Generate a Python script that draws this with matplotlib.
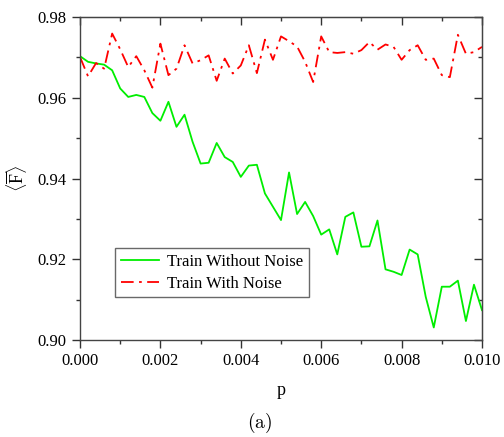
import numpy as np
import matplotlib
matplotlib.use("Agg")
import matplotlib.pyplot as plt
from matplotlib.ticker import MultipleLocator, FormatStrFormatter, NullFormatter

plt.rcParams['font.family'] = ['Liberation Serif', 'DejaVu Serif']
plt.rcParams['mathtext.fontset'] = 'custom'
plt.rcParams['mathtext.rm'] = 'Liberation Serif'
plt.rcParams['mathtext.it'] = 'Liberation Serif:italic'

p = [i * 0.0002 for i in range(51)]

without_noise = [
    0.9703, 0.9689, 0.9685, 0.9682, 0.9668, 0.9623, 0.9602, 0.9607, 0.9602, 0.9562,
    0.9543, 0.9590, 0.9528, 0.9558, 0.9491, 0.9437, 0.9439, 0.9488, 0.9453, 0.9441,
    0.9404, 0.9432, 0.9434, 0.9363, 0.9330, 0.9297, 0.9415, 0.9312, 0.9342, 0.9307,
    0.9261, 0.9274, 0.9212, 0.9305, 0.9316, 0.9231, 0.9232, 0.9296, 0.9175, 0.9169,
    0.9161, 0.9224, 0.9212, 0.9107, 0.9031, 0.9132, 0.9132, 0.9147, 0.9047, 0.9137,
    0.9074,
]

with_noise = [
    0.9701, 0.9653, 0.9686, 0.9672, 0.9759, 0.9720, 0.9676, 0.9703, 0.9668, 0.9625,
    0.9734, 0.9656, 0.9672, 0.9730, 0.9685, 0.9693, 0.9705, 0.9642, 0.9697, 0.9660,
    0.9680, 0.9730, 0.9661, 0.9744, 0.9694, 0.9752, 0.9740, 0.9727, 0.9689, 0.9639,
    0.9752, 0.9713, 0.9711, 0.9713, 0.9709, 0.9718, 0.9738, 0.9719, 0.9732, 0.9726,
    0.9694, 0.9718, 0.9730, 0.9694, 0.9697, 0.9656, 0.9651, 0.9756, 0.9709, 0.9713,
    0.9726,
]

fig = plt.figure(figsize=(5.04, 4.37), dpi=100)
ax = fig.add_axes([80/504, 1 - 340/437, (482-80)/504, (340-17)/437])

ax.plot(p, without_noise, color='#00ee00', lw=1.3, label='Train Without Noise')
ax.plot(p, with_noise, color='#ff0000', lw=1.3, ls=(0, (7, 3, 1.5, 3)), label='Train With Noise')

ax.set_xlim(0, 0.010)
ax.set_ylim(0.90, 0.98)
ax.xaxis.set_major_locator(MultipleLocator(0.002))
ax.xaxis.set_minor_locator(MultipleLocator(0.001))
ax.yaxis.set_major_locator(MultipleLocator(0.02))
ax.yaxis.set_minor_locator(MultipleLocator(0.01))
ax.xaxis.set_major_formatter(FormatStrFormatter('%.3f'))
ax.yaxis.set_major_formatter(FormatStrFormatter('%.2f'))

for s in ax.spines.values():
    s.set_color('#444444')
    s.set_linewidth(1.0)

ax.tick_params(axis='both', which='major', labelsize=12, color='#333333', width=1.0,
               direction='out', length=6)
ax.tick_params(axis='both', which='minor', color='#333333', width=1.0,
               direction='out', length=3)

# top / right ticks pointing inward
sx = ax.secondary_xaxis('top')
sx.xaxis.set_major_locator(MultipleLocator(0.002))
sx.xaxis.set_minor_locator(MultipleLocator(0.001))
sx.xaxis.set_major_formatter(NullFormatter())
sx.tick_params(which='major', direction='in', length=6, width=1.0, color='#333333')
sx.tick_params(which='minor', direction='in', length=3, width=1.0, color='#333333')
sx.spines['top'].set_color('#444444')

sy = ax.secondary_yaxis('right')
sy.yaxis.set_major_locator(MultipleLocator(0.02))
sy.yaxis.set_minor_locator(MultipleLocator(0.01))
sy.yaxis.set_major_formatter(NullFormatter())
sy.tick_params(which='major', direction='in', length=6, width=1.0, color='#333333')
sy.tick_params(which='minor', direction='in', length=3, width=1.0, color='#333333')
sy.spines['right'].set_color('#444444')

ax.set_xlabel('p', fontsize=13, labelpad=9)
ax.set_ylabel(r'$\langle\overline{\mathrm{F}}\rangle$', fontsize=13, labelpad=6)

leg = ax.legend(loc='upper left', bbox_to_anchor=(0.087, 0.285), fontsize=12,
                frameon=True, fancybox=False, edgecolor='#444444',
                handlelength=2.3, borderpad=0.35, labelspacing=0.35, handletextpad=0.5,
                borderaxespad=0)
leg.get_frame().set_linewidth(1.0)

fig.text(260/504, 1 - 423/437, r'$\mathrm{(a)}$', math_fontfamily='cm',
         fontsize=14, ha='center', va='center')

fig.savefig('out.png', dpi=100)
